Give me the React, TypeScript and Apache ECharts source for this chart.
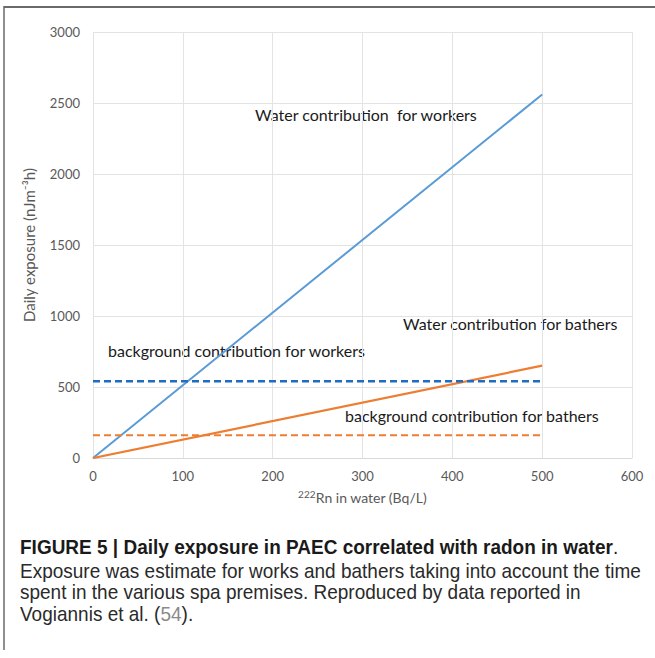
import React, { useEffect, useRef } from "react";
import * as echarts from "echarts";

const xValues = [0, 500];
const waterWorkers = [0, 2560];
const waterBathers = [0, 650];
const bgWorkers = [540, 540];
const bgBathers = [160, 160];
const xTicks = [0, 100, 200, 300, 400, 500, 600];
const yTicks = [0, 500, 1000, 1500, 2000, 2500, 3000];

const pairs = (ys: number[]) => xValues.map((x, i) => [x, ys[i]]);

const labelFont = "Lato, 'Open Sans', sans-serif";
const capFont = "'Liberation Sans', Arial, sans-serif";

export default function App() {
  const ref = useRef<HTMLDivElement>(null);
  useEffect(() => {
    const chart = echarts.init(ref.current!, null, { renderer: "svg" });
    const annot = (text: string, left: number, top: number) => ({
      type: "text",
      left,
      top,
      style: { text, fill: "#1a1a1a", font: `16px ${labelFont}` },
    });
    chart.setOption({
      animation: false,
      backgroundColor: "#ffffff",
      grid: { left: 93, right: 23, top: 32, bottom: 200, containLabel: false },
      xAxis: {
        type: "value",
        min: xTicks[0],
        max: xTicks[xTicks.length - 1],
        interval: 100,
        name: "{sup|222}Rn in water (Bq/L)",
        nameLocation: "middle",
        nameGap: 31,
        nameTextStyle: {
          color: "#595959",
          fontSize: 14,
          fontFamily: labelFont,
          rich: { sup: { fontSize: 10, verticalAlign: "top", color: "#595959", fontFamily: labelFont, padding: [0, 0, 6, 0] } },
        },
        axisLine: { lineStyle: { color: "#d9d9d9", width: 1 } },
        axisTick: { show: false },
        axisLabel: { color: "#595959", fontSize: 13, fontFamily: labelFont, margin: 11 },
        splitLine: { show: true, lineStyle: { color: "#e3e3e3", width: 1 } },
      },
      yAxis: {
        type: "value",
        min: yTicks[0],
        max: yTicks[yTicks.length - 1],
        interval: 500,
        name: "Daily exposure (nJm⁻³h)",
        nameLocation: "middle",
        nameGap: 57,
        nameTextStyle: { color: "#595959", fontSize: 15, fontFamily: labelFont },
        axisLine: { show: false },
        axisTick: { show: false },
        axisLabel: {
          color: "#595959",
          fontSize: 13,
          fontFamily: labelFont,
          margin: 13,
          formatter: (v: number) => String(v),
        },
        splitLine: { show: true, lineStyle: { color: "#e3e3e3", width: 1 } },
      },
      series: [
        {
          type: "line",
          data: pairs(waterWorkers),
          symbol: "none",
          lineStyle: { color: "#5b9bd5", width: 2 },
        },
        {
          type: "line",
          data: pairs(waterBathers),
          symbol: "none",
          lineStyle: { color: "#ed7d31", width: 2.2 },
        },
        {
          type: "line",
          data: pairs(bgWorkers),
          symbol: "none",
          lineStyle: { color: "#1f6cc1", width: 2.5, type: [7, 4] },
        },
        {
          type: "line",
          data: pairs(bgBathers),
          symbol: "none",
          lineStyle: { color: "#ed7d31", width: 2, type: [7, 4] },
        },
      ],
      graphic: [
        annot("Water contribution  for workers", 255, 106),
        annot("Water contribution for bathers", 403, 315),
        annot("background contribution for workers", 108, 342),
        annot("background contribution for bathers", 345, 407),
        {
          type: "line",
          shape: { x1: 4, y1: 7, x2: 655, y2: 7 },
          style: { stroke: "#6a6a6a", lineWidth: 2 },
        },
        {
          type: "line",
          shape: { x1: 4, y1: 6, x2: 4, y2: 650 },
          style: { stroke: "#6a6a6a", lineWidth: 1.5 },
        },
        {
          type: "text",
          left: 20,
          top: 537,
          scaleX: 0.95,
          style: {
            text: "{b|FIGURE 5 | Daily exposure in PAEC correlated with radon in water}{n|.}",
            rich: {
              b: { font: `bold 20px ${capFont}`, fill: "#1a1a1a" },
              n: { font: `20px ${capFont}`, fill: "#1a1a1a" },
            },
          },
        },
        {
          type: "text",
          left: 20,
          top: 560,
          scaleX: 0.95,
          style: {
            text: "Exposure was estimate for works and bathers taking into account the time\nspent in the various spa premises. Reproduced by data reported in\n{n|Vogiannis et al. (}{g|54}{n|).}",
            font: `20px ${capFont}`,
            fill: "#2a2a2a",
            lineHeight: 21.5,
            rich: {
              n: { font: `20px ${capFont}`, fill: "#2a2a2a", lineHeight: 21.5 },
              g: { font: `20px ${capFont}`, fill: "#8a8a8a", lineHeight: 21.5 },
            },
          },
        },
      ],
    });
    return () => chart.dispose();
  }, []);
  return (
    <div
      ref={ref}
      style={{ position: "absolute", left: 0, top: 0, width: 655, height: 658, background: "#fff" }}
    />
  );
}
